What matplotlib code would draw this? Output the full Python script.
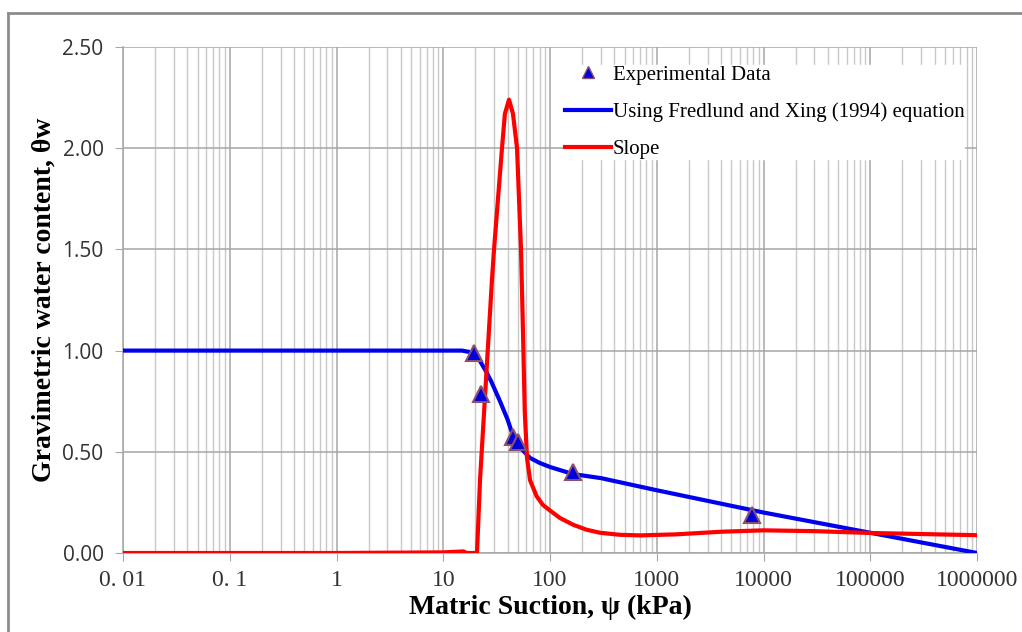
import numpy as np
import matplotlib
matplotlib.use("Agg")
import matplotlib.pyplot as plt
from matplotlib.ticker import LogLocator, FixedLocator, FixedFormatter, NullFormatter
from matplotlib.lines import Line2D

# Experimental data points
exp_suction = [19.4, 22.6, 45, 50, 164, 7800]
exp_water = [0.99, 0.786, 0.573, 0.548, 0.40, 0.188]

# Fredlund and Xing (1994) fit
fx_suction = [0.01, 1, 15, 19, 22, 25, 28, 34, 40, 45, 55, 65, 80, 100, 164, 300,
              1000, 10000, 100000, 1000000]
fx_water = [1.0, 1.0, 1.0, 0.99, 0.95, 0.90, 0.85, 0.75, 0.66, 0.58, 0.51, 0.47,
            0.445, 0.425, 0.39, 0.37, 0.31, 0.20, 0.10, 0.0]

# Slope curve
slope_suction = [0.01, 1, 10, 15.5, 16.5, 20.7, 22.1, 28.6, 29.9, 35.5, 37.8, 41.3,
                 45.0, 49.1, 53.5, 55.8, 58.0, 60.9, 65.0, 75, 86.0, 100, 124, 164,
                 220, 294, 450, 700, 1500, 4000, 10000, 30000, 100000, 1000000]
slope_value = [0.0, 0.0, 0.003, 0.008, 0.0, 0.0, 0.36, 1.35, 1.50, 2.0, 2.17, 2.24,
               2.17, 2.0, 1.50, 1.10, 0.70, 0.47, 0.36, 0.28, 0.237, 0.21, 0.173, 0.14,
               0.115, 0.10, 0.09, 0.087, 0.092, 0.105, 0.112, 0.108, 0.099, 0.088]

x_ticks = [0.01, 0.1, 1, 10, 100, 1000, 10000, 100000, 1000000]
x_tick_labels = ["0. 01", "0. 1", "1", "10", "100", "1000", "10000", "100000", "1000000"]
y_ticks = [0.0, 0.5, 1.0, 1.5, 2.0, 2.5]

fig = plt.figure(figsize=(10.22, 6.32), dpi=100)
ax = fig.add_axes([123 / 1022, 1 - 553 / 632, (977 - 123) / 1022, (553 - 47) / 632])

ax.plot(fx_suction, fx_water, color="#0000ee", lw=3, zorder=3,
        label="Using Fredlund and Xing (1994) equation")
ax.plot(slope_suction, slope_value, color="#ff0000", lw=3, zorder=4, label="Slope")
ax.plot(exp_suction, exp_water, linestyle="none", marker="^", markersize=11,
        markerfacecolor="#0000dd", markeredgecolor="#8b4f6f", markeredgewidth=1.5,
        zorder=5, label="Experimental Data")

ax.set_xscale("log")
ax.set_xlim(0.01, 1000000)
ax.set_ylim(0, 2.5)

ax.xaxis.set_major_locator(FixedLocator(x_ticks))
ax.xaxis.set_major_formatter(FixedFormatter(x_tick_labels))
ax.xaxis.set_minor_locator(LogLocator(base=10, subs=np.arange(2, 10), numticks=100))
ax.xaxis.set_minor_formatter(NullFormatter())
ax.set_yticks(y_ticks)
ax.set_yticklabels([f"{v:.2f}" for v in y_ticks])

ax.grid(True, which="major", axis="both", color="#a6a6a6", lw=1.1)
ax.grid(True, which="minor", axis="x", color="#c8c8c8", lw=1.0)
ax.set_axisbelow(True)

for s in ["top", "right"]:
    ax.spines[s].set_visible(False)
for s in ["left", "bottom"]:
    ax.spines[s].set_color("#a6a6a6")
    ax.spines[s].set_linewidth(1.1)

ax.tick_params(axis="x", which="major", length=6, color="#a6a6a6", pad=6)
ax.tick_params(axis="x", which="minor", length=0)
ax.tick_params(axis="y", length=6, color="#a6a6a6", pad=8)

for lab in ax.get_xticklabels():
    lab.set_fontfamily("Liberation Serif")
    lab.set_fontsize(17)
    lab.set_color("#333333")
for lab in ax.get_yticklabels():
    lab.set_fontfamily("Open Sans")
    lab.set_fontsize(15)
    lab.set_color("#333333")

ax.set_xlabel("Matric Suction, ψ (kPa)", fontfamily="Liberation Serif",
              fontweight="bold", fontsize=20, labelpad=3)
ax.set_ylabel("Gravimetric water content, θw", fontfamily="Liberation Serif",
              fontweight="bold", fontsize=20, labelpad=4)

handles = [
    Line2D([], [], linestyle="none", marker="^", markersize=9,
           markerfacecolor="#0000dd", markeredgecolor="#8b4f6f"),
    Line2D([], [], color="#0000ee", lw=3),
    Line2D([], [], color="#ff0000", lw=3),
]
labels = ["Experimental Data", "Using Fredlund and Xing (1994) equation", "Slope"]
leg = ax.legend(handles, labels, loc="upper left", bbox_to_anchor=(0.505, 0.985),
                frameon=True, fancybox=False, edgecolor="white", framealpha=1,
                prop={"family": "Liberation Serif", "size": 15},
                labelspacing=0.85, handlelength=2.2, handletextpad=0.1,
                borderpad=0.0)
leg.set_zorder(10)

# outer frame around the chart
fig.add_artist(Line2D([8 / 1022, 8 / 1022], [0, 1 - 13 / 632],
                      transform=fig.transFigure, color="#8c8c8c", lw=2))
fig.add_artist(Line2D([8 / 1022, 1], [1 - 13 / 632, 1 - 13 / 632],
                      transform=fig.transFigure, color="#8c8c8c", lw=2))

fig.savefig("out.png", dpi=100)
